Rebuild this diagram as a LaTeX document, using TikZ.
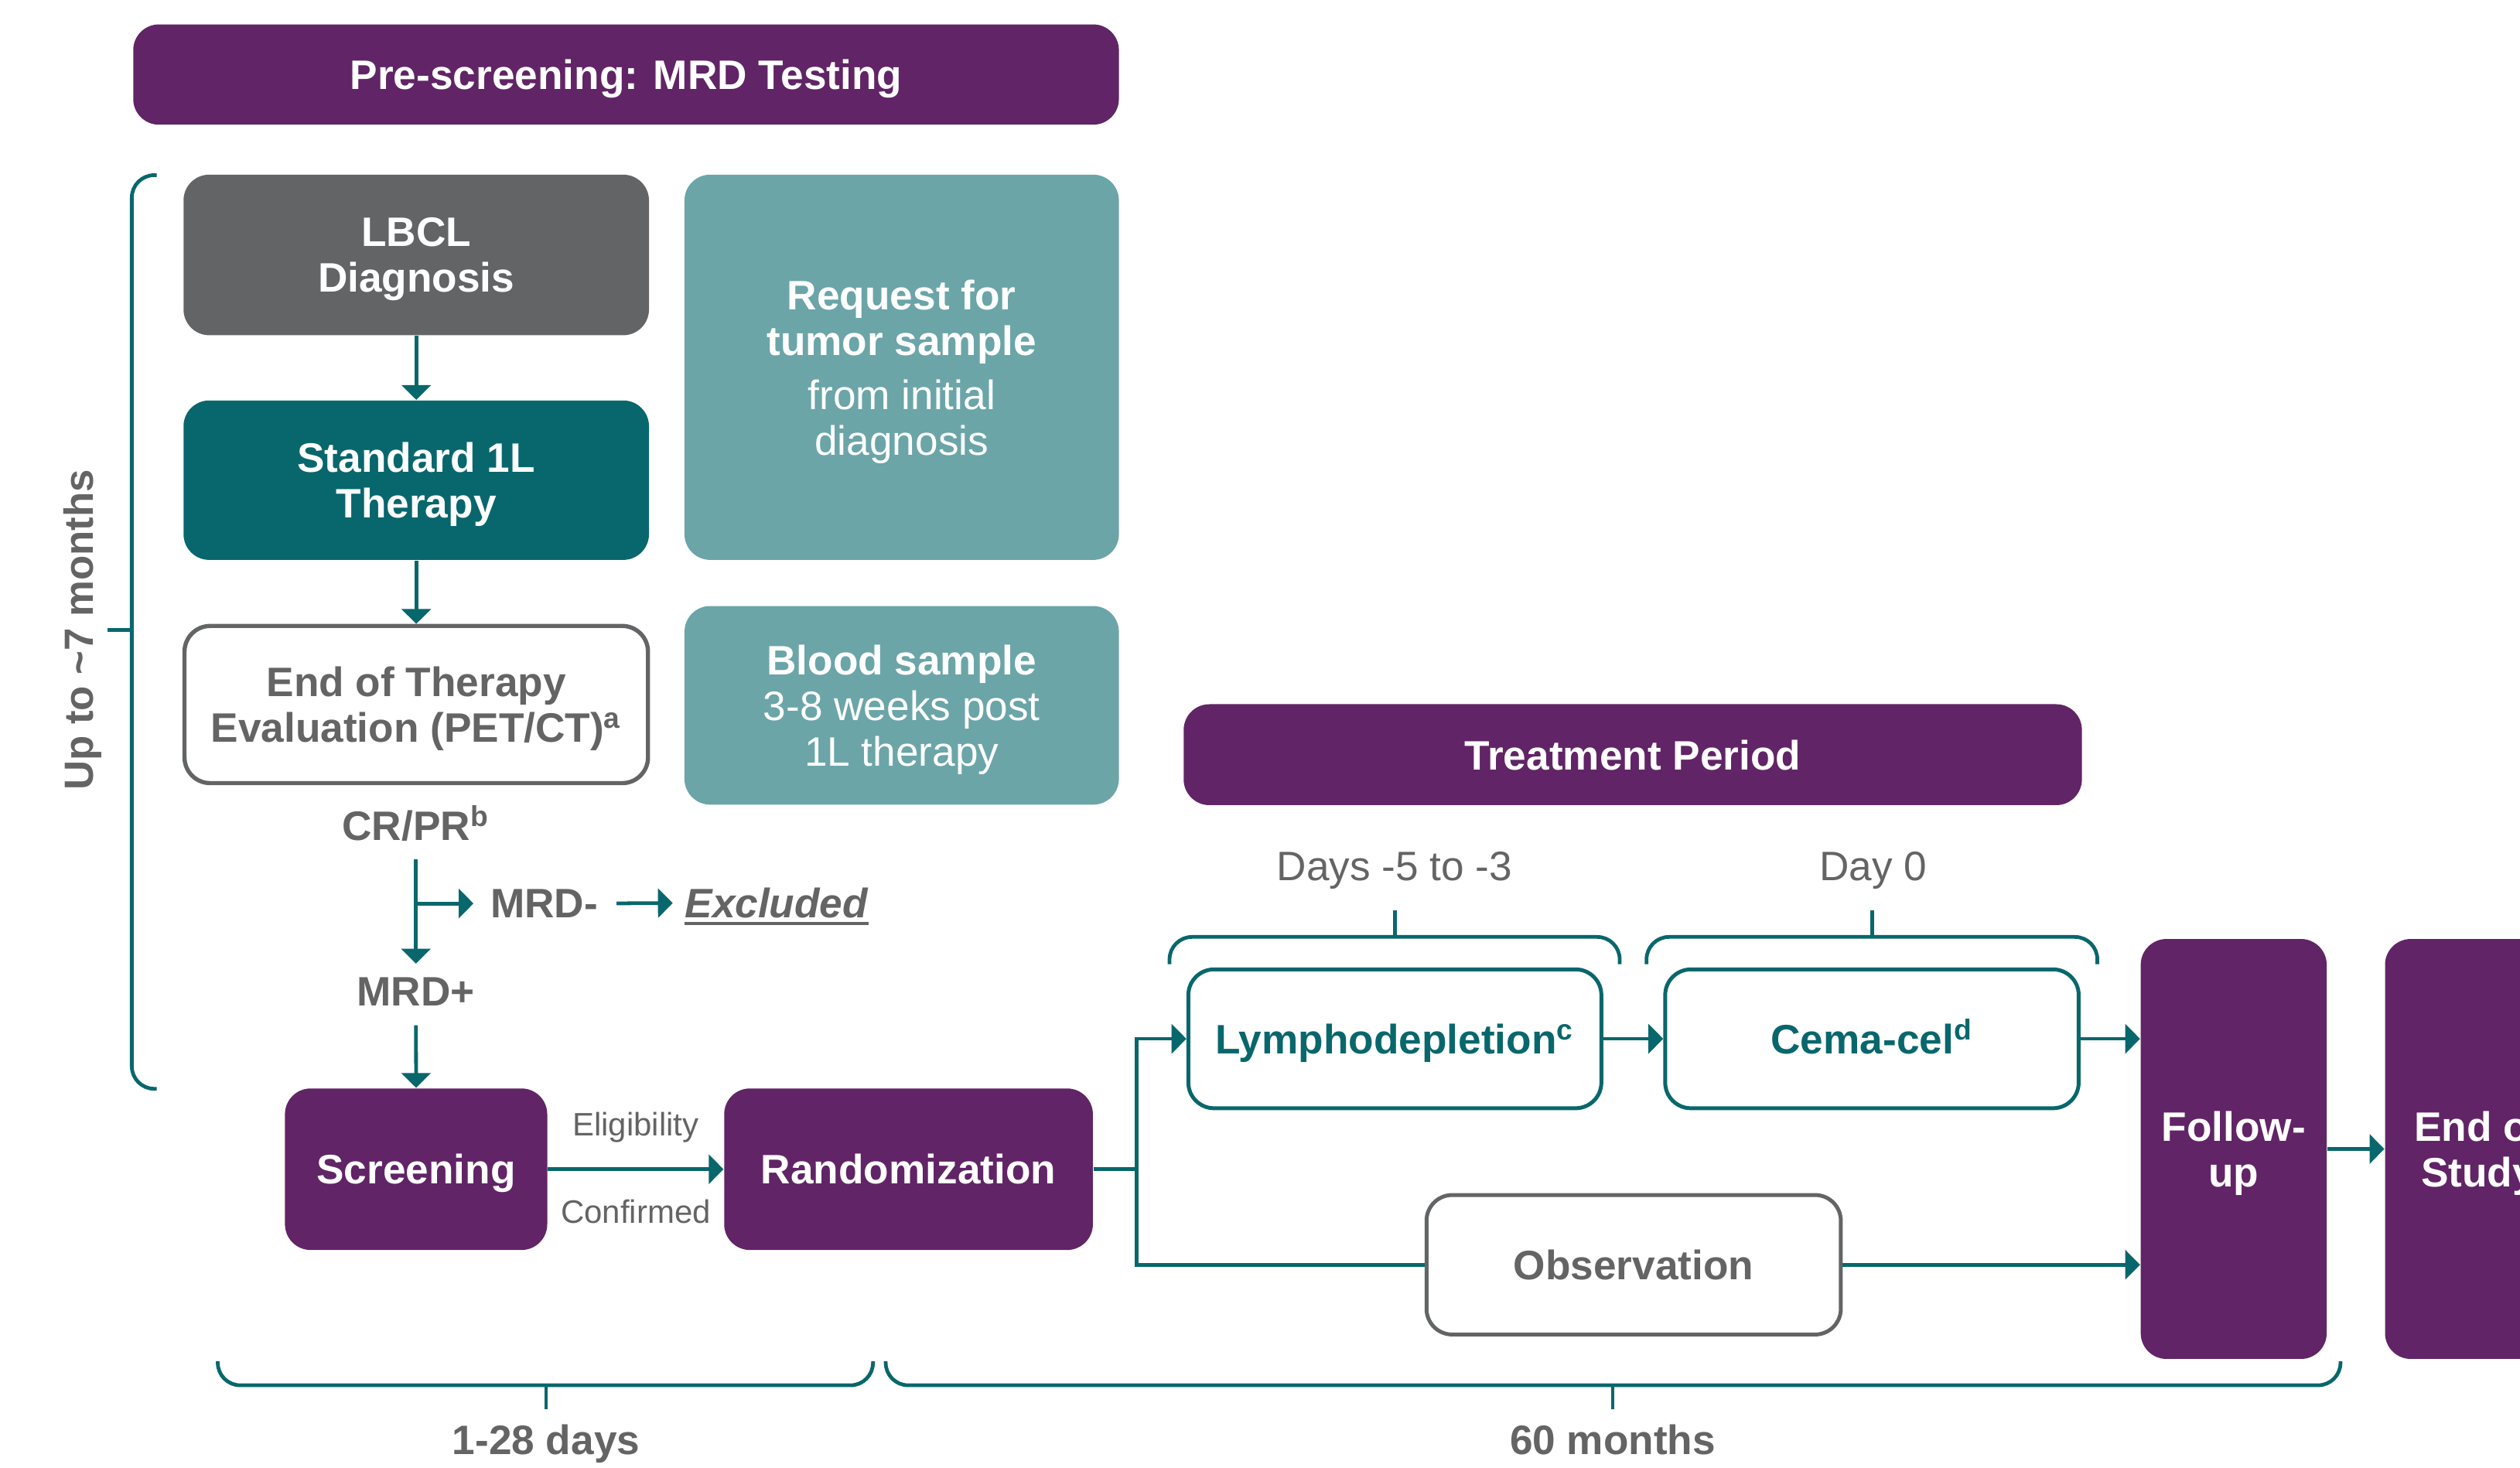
\documentclass[tikz,border=0pt]{standalone}
\usepackage{fontspec}
\setmainfont{Liberation Sans}
\usetikzlibrary{arrows.meta,calc}

\definecolor{plum}{HTML}{612466}
\definecolor{deepteal}{HTML}{08676C}
\definecolor{paleteal}{HTML}{6BA5A8}
\definecolor{slate}{HTML}{636466}
\definecolor{inkgray}{HTML}{646464}

\newcommand\bodyfont{\fontsize{12.8}{14.2}\selectfont}
\newcommand\smallfont{\fontsize{10.1}{12}\selectfont}

% rounded box given by its corners: name, x1, y1, x2, y2, style, text
\newcommand\rbox[7]{%
  \pgfmathsetmacro\rbw{(#4-#2)*0.5}%
  \pgfmathsetmacro\rbh{(#5-#3)*0.5}%
  \node[#6, minimum width=\rbw pt, minimum height=\rbh pt] (#1) at ({(#2+#4)/2},{(#3+#5)/2}) {#7};%
}

\tikzset{
  card/.style={rounded corners=8pt, inner sep=0pt, align=center, text depth=0pt, font=\bodyfont\bfseries},
  filled/.style={card, fill=#1, text=white},
  outlined/.style={card, draw=#1, line width=1.2pt, fill=white},
  conn/.style={draw=deepteal, line width=1.15pt},
  arr/.style={conn, -{Triangle[width=9pt,length=4.6pt]}},
  brace/.style={draw=deepteal, line width=1.15pt, rounded corners=7pt},
  lbl/.style={inner sep=0pt, text=inkgray, font=\bodyfont},
  boldlbl/.style={lbl, font=\bodyfont\bfseries},
}

\begin{document}
\begin{tikzpicture}[x=0.5pt,y=-0.5pt]
\useasboundingbox (0,0) rectangle (1568,913);
\clip (0,0) rectangle (1568,913);

% phase headers
\rbox{pre}{82.9}{15.2}{696.2}{77.6}{filled=plum}{Pre-screening: MRD Testing}
\rbox{treat}{736.5}{438.2}{1295.4}{501}{filled=plum}{Treatment Period}

% pre-screening column
\rbox{lbcl}{114.2}{108.7}{403.8}{208.6}{filled=slate}{LBCL\\Diagnosis}
\rbox{std}{114.2}{249.2}{403.8}{348.4}{filled=deepteal}{Standard 1L\\Therapy}
\rbox{eot}{114.8}{389.5}{403.2}{487.3}{outlined=slate, line width=1.3pt, text=inkgray}{End of Therapy\\Evaluation (PET/CT)\textsuperscript{a}}
\rbox{tumor}{425.9}{108.7}{696.2}{348.4}{filled=paleteal}{Request for\\tumor sample\\[2.7pt]{\mdseries from initial}\\{\mdseries diagnosis}}
\rbox{blood}{425.9}{377.1}{696.2}{500.7}{filled=paleteal}{Blood sample\\{\mdseries 3-8 weeks post}\\{\mdseries 1L therapy}}

\draw[arr] (lbcl) -- (std);
\draw[arr] (std) -- (eot);

% response and MRD split
\node[boldlbl, anchor=base] (crpr) at (258.8,523) {CR/PR\textsuperscript{b}};
\node[boldlbl, anchor=base] (mrdp) at (258.8,626) {MRD+};
\node[boldlbl, anchor=base west] (mrdm) at (304.8,571) {MRD-};
\node[lbl, font=\bodyfont\bfseries\itshape, anchor=base west] (excl) at (425.8,571) {Excluded};
\draw[inkgray, line width=0.8pt] ([yshift=-1.8pt]excl.base west) -- ([yshift=-1.8pt]excl.base east);

\draw[arr, shorten <=5.5pt, shorten >=4.2pt] (crpr.south) -- (mrdp.north);
\draw[arr, shorten >=5.1pt] (crpr.south |- mrdm.west) -- (mrdm.west);
\draw[arr, shorten <=5.6pt, shorten >=3.6pt] (mrdm.east) -- (excl.west);

% screening and randomization
\rbox{screen}{177.3}{677.3}{340.5}{777.8}{filled=plum}{Screening}
\rbox{rand}{450.6}{677.3}{680}{777.8}{filled=plum}{Randomization}
\draw[arr, shorten <=5.8pt] (mrdp.south) -- (screen.north);
\draw[arr] (screen.east) -- (rand.west);
\node[lbl, font=\smallfont, anchor=base] (elig) at (395.6,706.8) {Eligibility};
\node[lbl, font=\smallfont, anchor=base] (conf) at (395.6,761.1) {Confirmed};

% treatment arms
\rbox{lympho}{739.4}{603.2}{996.4}{689.6}{outlined=deepteal, text=deepteal, text height=9.3pt}{Lymphodepletion\textsuperscript{c}}
\rbox{cema}{1036.1}{603.2}{1293.4}{689.6}{outlined=deepteal, text=deepteal, text height=9.3pt}{Cema-cel\textsuperscript{d}}
\rbox{obs}{887.6}{743.6}{1145.4}{830.4}{outlined=slate, text=inkgray}{Observation}
\rbox{fu}{1332}{584.3}{1447.7}{845.6}{filled=plum}{Follow-\\up}
\rbox{eos}{1484}{584.3}{1600}{845.6}{filled=plum}{End of\\Study}

\draw[conn] (rand.east) -- ++(27,0) coordinate (fork);
\draw[arr] (fork) |- (lympho.west);
\draw[conn] (fork) |- (obs.west);
\draw[arr] (lympho.east) -- (cema.west);
\draw[arr] (cema.east) -- (cema.east -| fu.west);
\draw[arr] (obs.east) -- (obs.east -| fu.west);
\draw[arr] (fu.east) -- (eos.west);

% timing labels and braces
\node[lbl, anchor=base] (ldday) at (867.7,547.8) {Days -5 to -3};
\node[lbl, anchor=base] (infday) at (1165.4,547.8) {Day 0};
\draw[brace] (727.7,600) -- (727.7,583) -- (1007.8,583) -- (1007.8,600);
\draw[brace] (867.8,583) -- (867.8,566.4);
\draw[brace] (1024.5,600) -- (1024.5,583) -- (1305,583) -- (1305,600);
\draw[brace] (1164.8,583) -- (1164.8,566.4);

\draw[brace] (97.5,109) -- (82,109) -- (82,677.5) -- (97.5,677.5);
\draw[brace] (82,392) -- (67,392);
\node[lbl, font=\fontsize{12.7}{15}\selectfont\bfseries, rotate=90, anchor=base] (prespan) at (58.2,392) {Up to \textasciitilde7 months};

\draw[brace] (135.5,847) -- (135.5,862) -- (543.2,862) -- (543.2,847);
\draw[brace] (339.8,862) -- (339.8,877);
\draw[brace] (551.1,847) -- (551.1,862) -- (1456.3,862) -- (1456.3,847);
\draw[brace] (1003.5,862) -- (1003.5,877);
\node[boldlbl, anchor=base] (screenspan) at (339.8,905) {1-28 days};
\node[boldlbl, anchor=base] (studyspan) at (1003.5,905) {60 months};
\end{tikzpicture}
\end{document}
